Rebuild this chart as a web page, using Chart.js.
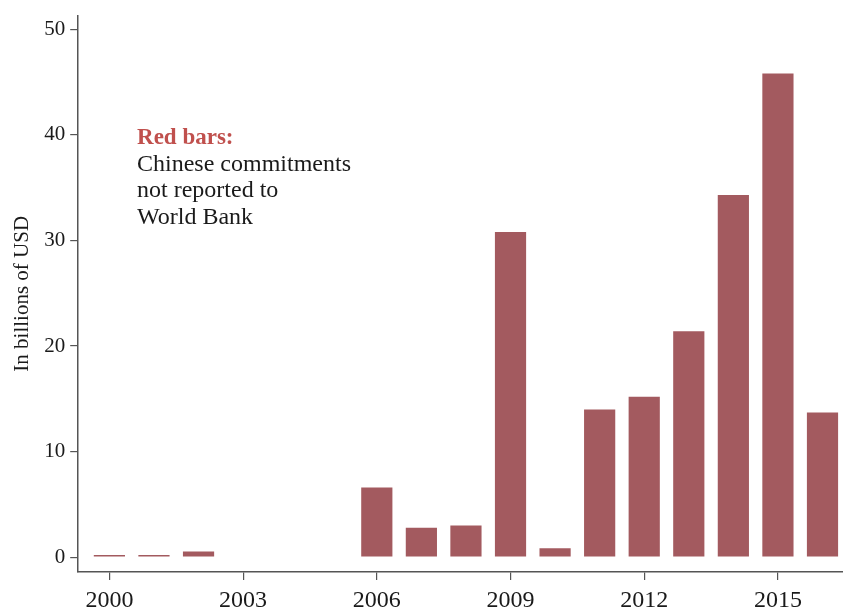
<!DOCTYPE html>
<html>
<head>
<meta charset="utf-8">
<script src="https://cdn.jsdelivr.net/npm/chart.js@4"></script>
<style>
  html, body { margin: 0; padding: 0; background: #fff; }
  #wrap { width: 843px; height: 607px; position: relative; }
</style>
</head>
<body>
<div id="wrap"><canvas id="chart"></canvas></div>
<script>
  const years = [2000, 2001, 2002, 2003, 2004, 2005, 2006, 2007, 2008, 2009, 2010, 2011, 2012, 2013, 2014, 2015, 2016];
  const unreported = [0.2, 0.2, 0.55, 0, 0, 0, 6.6, 2.8, 3.0, 30.8, 0.85, 14.0, 15.2, 21.4, 34.3, 45.8, 13.7];
  const xTicks = [2000, 2003, 2006, 2009, 2012, 2015];
  const yTicks = [0, 10, 20, 30, 40, 50];
  const noteTitle = "Red bars:";
  const noteLines = ["Chinese commitments", "not reported to", "World Bank"];

  const BAR_COLOR = "#a35a5f";
  const AXIS_COLOR = "#555";
  const TEXT_COLOR = "#1a1a1a";
  const SERIF = "'Liberation Serif', 'DejaVu Serif', serif";

  // text box sits in data units so it follows the axes
  const notePlugin = {
    id: "note",
    afterDatasetsDraw(chart) {
      const { ctx, scales } = chart;
      const x = scales.x.getPixelForValue(2000.62);
      let y = scales.y.getPixelForValue(39.1);
      ctx.save();
      ctx.textBaseline = "alphabetic";
      ctx.textAlign = "left";
      ctx.font = `bold 23px ${SERIF}`;
      ctx.fillStyle = "#c0504d";
      ctx.fillText(noteTitle, x, y);
      ctx.font = `24px ${SERIF}`;
      ctx.fillStyle = TEXT_COLOR;
      noteLines.forEach((line) => {
        y += 26.5;
        ctx.fillText(line, x, y);
      });
      ctx.restore();
    },
  };

  function axisGrid() {
    return {
      drawOnChartArea: false,
      offset: false,
      tickLength: 8,
      color: AXIS_COLOR,
      lineWidth: 1.2,
    };
  }

  new Chart(document.getElementById("chart"), {
    type: "bar",
    data: {
      datasets: [
        {
          data: years.map((year, i) => ({ x: year, y: unreported[i] })),
          backgroundColor: BAR_COLOR,
          borderWidth: 0,
          barPercentage: 0.7,
          categoryPercentage: 1,
        },
      ],
    },
    options: {
      responsive: true,
      maintainAspectRatio: false,
      animation: false,
      layout: { padding: { top: 12, right: 0, left: 10, bottom: 0 } },
      plugins: {
        legend: { display: false },
        tooltip: { enabled: false },
      },
      scales: {
        x: {
          type: "linear",
          offset: false,
          min: 1999.3,
          max: 2016.46,
          afterBuildTicks(scale) {
            scale.ticks = xTicks.map((value) => ({ value }));
          },
          // the year labels run off the bottom edge in the source
          afterFit(scale) {
            scale.height = 35;
          },
          border: { color: AXIS_COLOR, width: 1.5 },
          grid: axisGrid(),
          ticks: {
            color: TEXT_COLOR,
            padding: 9,
            maxRotation: 0,
            font: { family: SERIF, size: 24, lineHeight: 1 },
            callback: (value) => String(value),
          },
        },
        y: {
          min: -1.4,
          max: 51.3,
          afterBuildTicks(scale) {
            scale.ticks = yTicks.map((value) => ({ value }));
          },
          border: { color: AXIS_COLOR, width: 1.5 },
          grid: axisGrid(),
          ticks: {
            color: TEXT_COLOR,
            padding: 5,
            font: { family: SERIF, size: 21, lineHeight: 1 },
          },
          title: {
            display: true,
            text: "In billions of USD",
            color: TEXT_COLOR,
            padding: { top: 0, bottom: 4 },
            font: { family: SERIF, size: 21 },
          },
        },
      },
    },
    plugins: [notePlugin],
  });
</script>
</body>
</html>
